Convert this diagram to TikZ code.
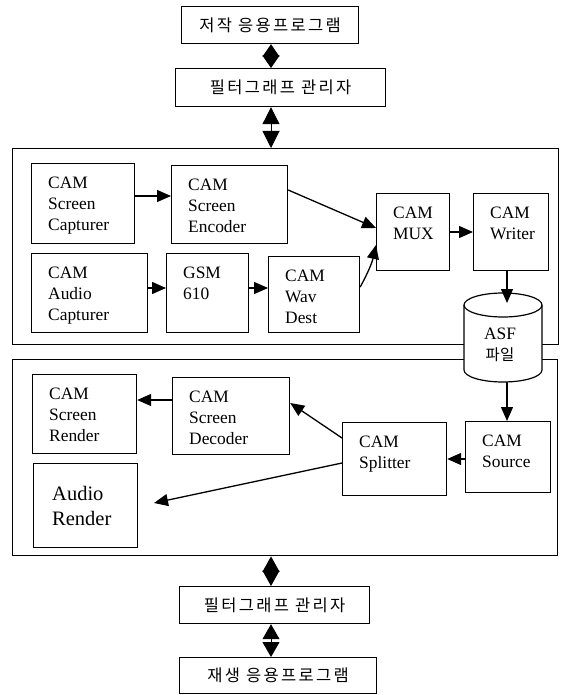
\documentclass[tikz,border=0pt]{standalone}
\usepackage{fontspec}
\setmainfont{Liberation Serif}
\newfontfamily\kr[LetterSpace=14]{Noto Sans CJK KR}
\newfontfamily\krp{Noto Sans CJK KR}
\usetikzlibrary{arrows.meta,calc}
\newcommand\camnode[6]{%
  \node[boxst, minimum width={(#4-#2)*1pt}, minimum height={(#5-#3)*1pt}] (#1) at (#2,#3) {};
  \node[txt] (#1-t) at ($(#1.north west)+(17,14)$) {#6};}
\begin{document}
\begin{tikzpicture}[x=1pt,y=-1pt,
  boxst/.style={draw, line width=1.2pt, inner sep=0pt, anchor=north west},
  panel/.style={draw, line width=1.4pt, inner sep=0pt, anchor=north west},
  txt/.style={anchor=north west, inner sep=0pt, align=left, font=\fontsize{17.4}{20.8}\selectfont},
  bigtxt/.style={anchor=west, inner sep=0pt, align=left, font=\fontsize{20.5}{25}\selectfont},
  arr/.style={line width=1.3pt, -{Triangle[length=14pt,width=12pt]}},
  dia/.style={line width=1pt, {Triangle[length=#1,width=17pt]}-{Triangle[length=#1,width=17pt]}},
  krbox/.style={draw, line width=1.2pt, inner sep=0pt, anchor=north west, font=\kr\fontsize{16.5}{19}\selectfont}
]
\useasboundingbox (0,0) rectangle (560,695);

% top application boxes
\node[krbox, minimum width=177pt, minimum height=37pt] (app) at (181,6) {저작 응용프로그램};
\node[krbox, minimum width=210pt, minimum height=38pt] (fgm1) at (175,68) {필터그래프 관리자};
\node[krbox, minimum width=190pt, minimum height=37pt] (fgm2) at (179,586) {필터그래프 관리자};
\node[krbox, minimum width=197pt, minimum height=36pt] (play) at (179,657) {재생 응용프로그램};

% panels
\node[panel, minimum width=546pt, minimum height=196pt] (pa) at (12,148) {};
\node[panel, minimum width=545pt, minimum height=196pt] (pb) at (12,359) {};

% capture graph
\camnode{sc}{31}{163}{134}{243}{CAM\\Screen\\Capturer}
\camnode{enc}{171}{165}{287}{243}{CAM\\Screen\\Encoder}
\camnode{mux}{376}{193}{449}{270}{CAM\\MUX}
\camnode{wr}{473}{193}{548}{270}{CAM\\Writer}
\camnode{ac}{31}{253}{147}{332}{CAM\\Audio\\Capturer}
\camnode{gsm}{166}{253}{248}{332}{GSM\\610}
\camnode{wav}{268}{256}{359}{332}{CAM\\Wav\\Dest}

% playback graph
\camnode{rend}{32}{374}{136}{453}{CAM\\Screen\\Render}
\camnode{dec}{172}{377}{289}{454}{CAM\\Screen\\Decoder}
\camnode{spl}{342}{422}{446}{495}{CAM\\Splitter}
\camnode{src}{465}{421}{550}{492}{CAM\\Source}
\node[boxst, minimum width=104pt, minimum height=84pt] (ar) at (33,463) {};
\node[bigtxt] (ar-t) at ($(ar.west)+(19,0)$) {Audio\\Render};

% cylinder (ASF file)
\draw[line width=1.2pt, fill=white] (464,305) -- (464,370)
  arc[start angle=180, end angle=0, x radius=39, y radius=12] -- (542,305)
  arc[start angle=0, end angle=-180, x radius=39, y radius=12] -- cycle;
\draw[line width=1.2pt] (464,305) arc[start angle=180, end angle=0, x radius=39, y radius=12];
\node[inner sep=0pt, align=center, font=\fontsize{17.4}{21}\selectfont] (cyl) at (500,345) {ASF\\{\krp\fontsize{15.5}{18}\selectfont 파일}};
\coordinate (cyltop) at (507,303);
\coordinate (cylbot) at (507,382);

% connectors
\draw[arr] (sc.east |- 0,196) -- (enc.west |- 0,196);
\draw[arr] (enc.east |- 0,190) -- (mux.west |- 0,228);
\draw[arr] (wav.east |- 0,287) to[bend right=8] (mux.west |- 0,245);
\draw[arr] (mux.east |- 0,232) -- (wr.west |- 0,232);
\draw[arr] (ac.east |- 0,288) -- (gsm.west |- 0,288);
\draw[arr] (gsm.east |- 0,288) -- (wav.west |- 0,288);
\draw[arr] (wr.south -| cyltop) -- (cyltop);
\draw[arr] (cylbot) -- (src.north -| cylbot);
\draw[arr] (src.west |- 0,459) -- (spl.east |- 0,459);
\draw[arr] (spl.west |- 0,438) -- (dec.east |- 0,403);
\draw[arr] (dec.west |- 0,400) -- (rend.east |- 0,400);
\coordinate (arend) at (154,503);
\draw[arr] (spl.west |- 0,463) -- (arend);

% manager links
\coordinate (dx) at (271,0);
\draw[dia=12.5pt] (app.south -| dx) -- (fgm1.north -| dx);
\draw[dia=17pt] (fgm1.south -| dx) -- (pa.north -| dx);
\draw[dia=15.5pt] (pb.south -| dx) -- (fgm2.north -| dx);
\draw[dia=15pt] (fgm2.south -| dx) -- (play.north -| dx);
\end{tikzpicture}
\end{document}
